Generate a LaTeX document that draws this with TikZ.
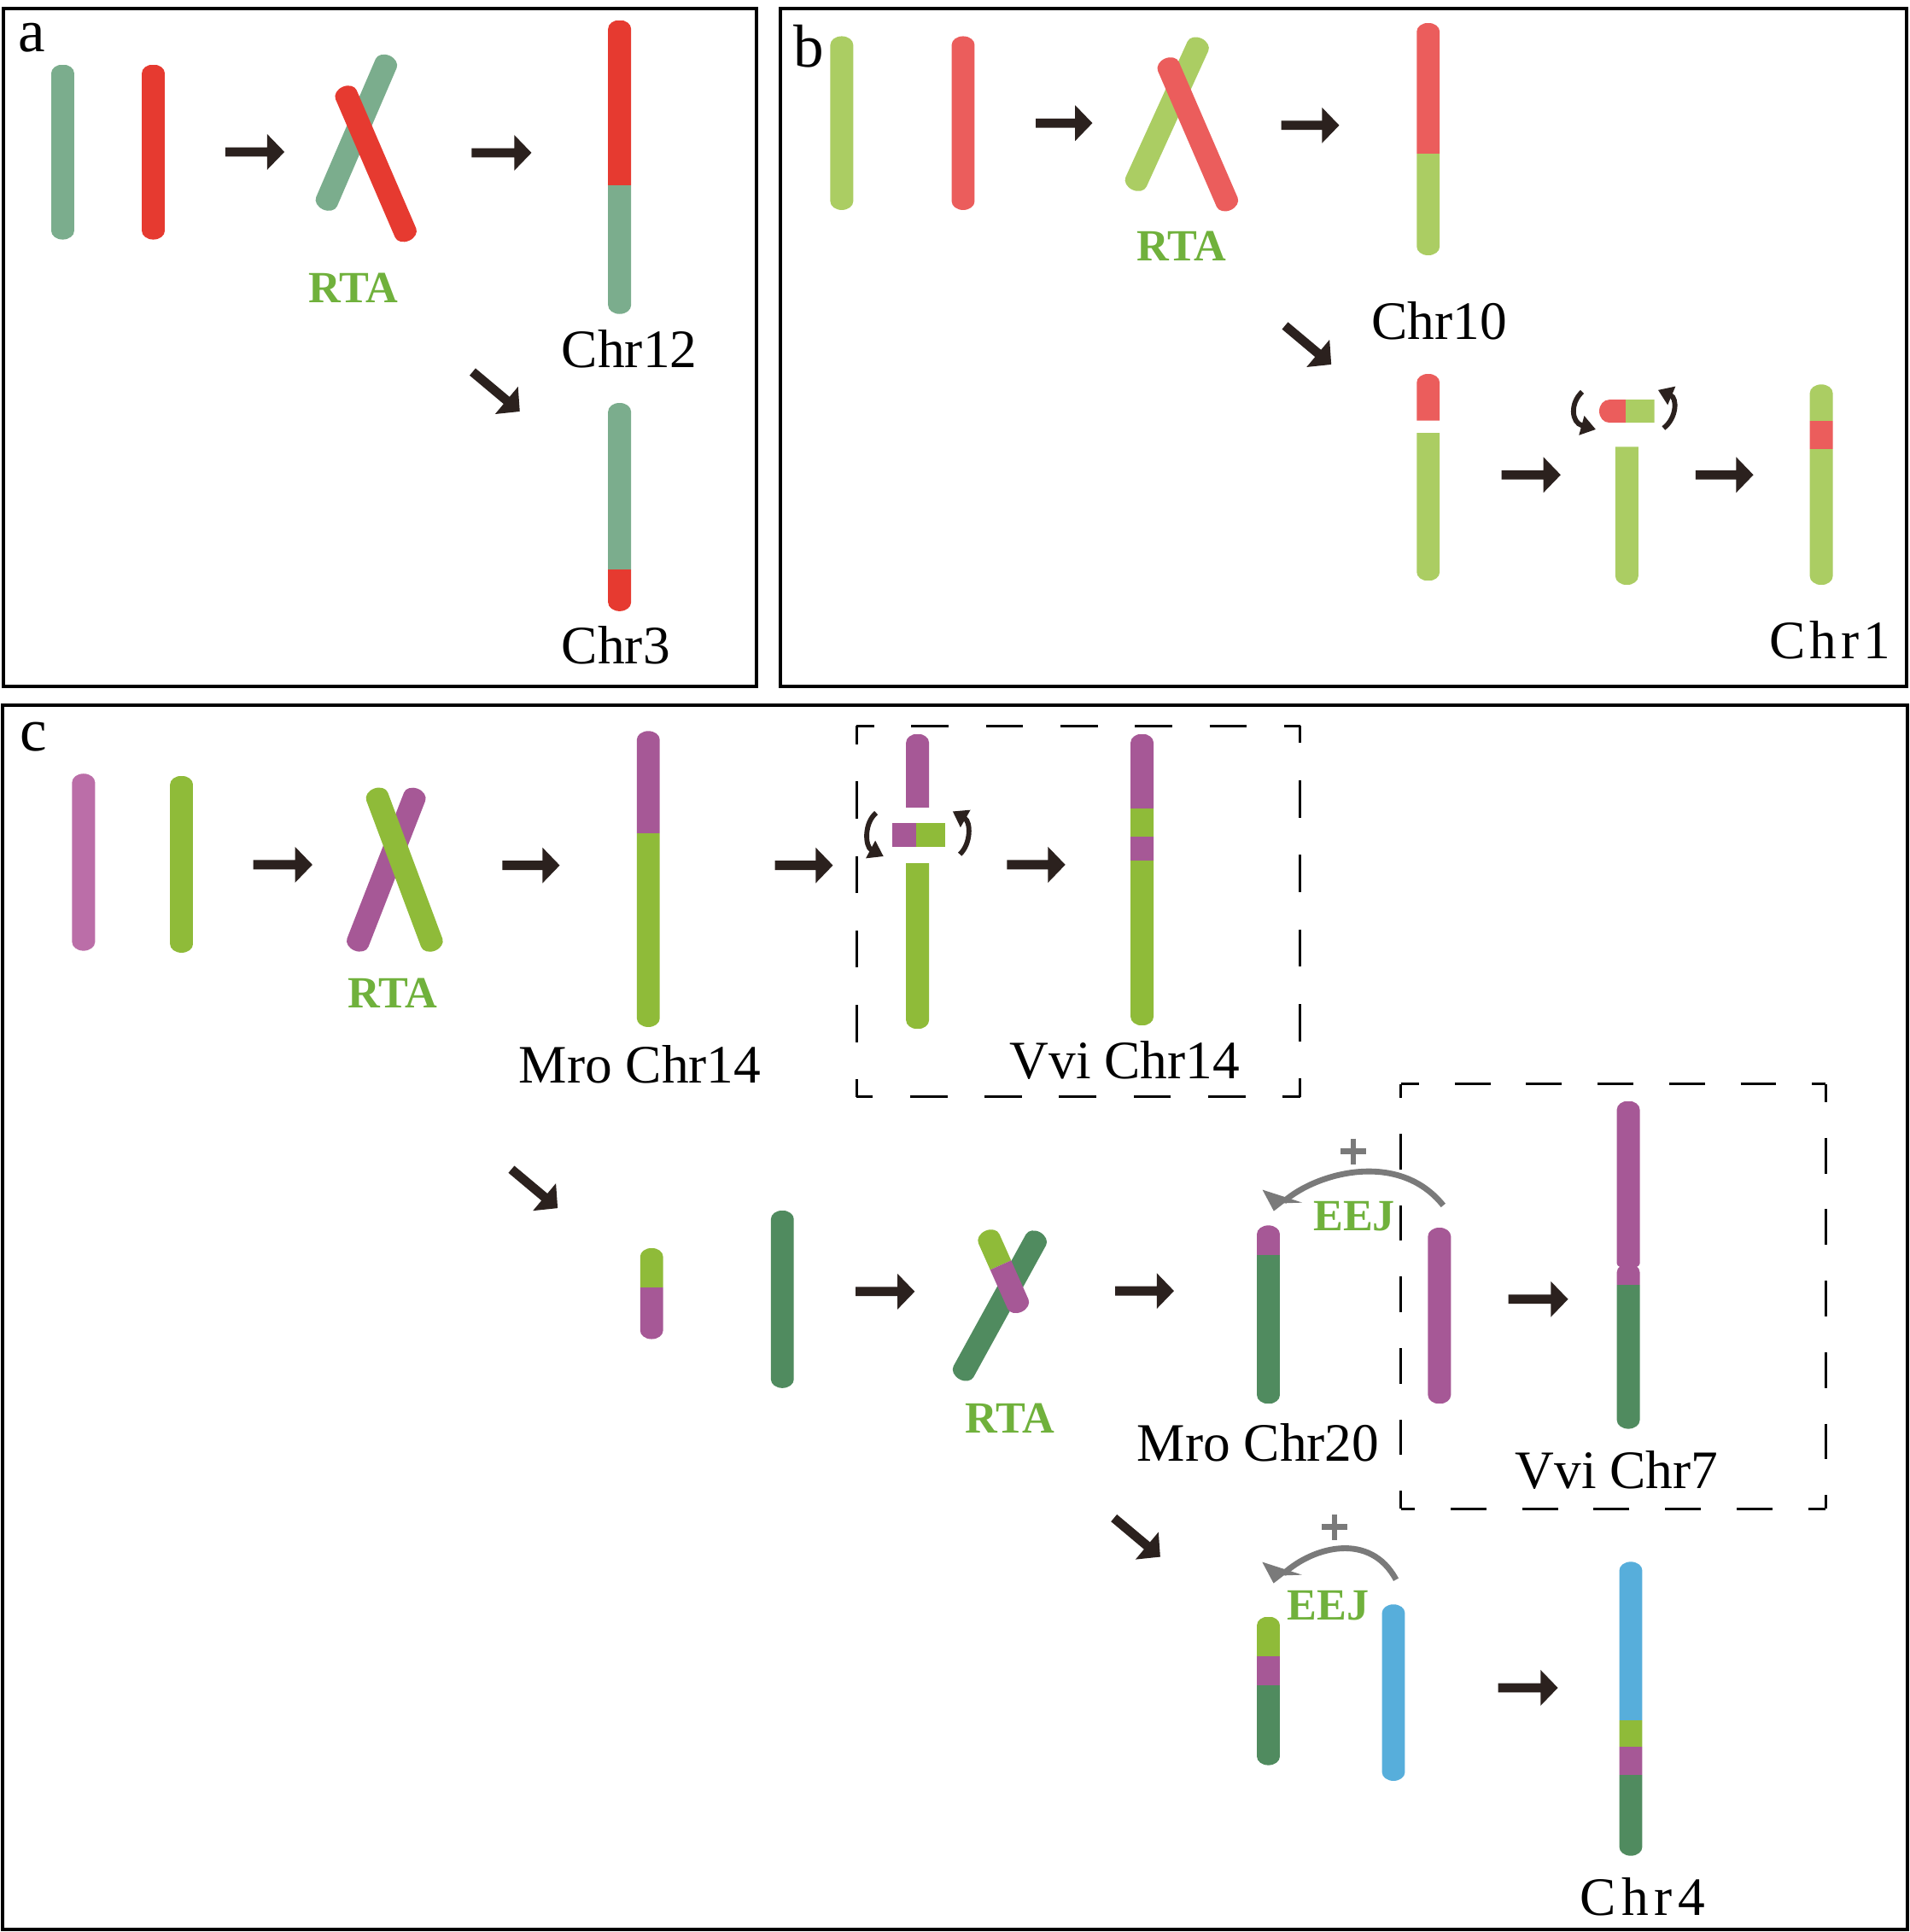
\documentclass[tikz,border=0pt]{standalone}
\usepackage{fontspec}
\setmainfont{Liberation Serif}
\usetikzlibrary{arrows.meta}
\definecolor{ateal}{RGB}{123,173,141}
\definecolor{ared}{RGB}{230,58,48}
\definecolor{blime}{RGB}{171,205,99}
\definecolor{bsalmon}{RGB}{235,93,92}
\definecolor{cpink}{RGB}{187,110,168}
\definecolor{cgreen}{RGB}{143,187,57}
\definecolor{cpurple}{RGB}{166,88,150}
\definecolor{cdark}{RGB}{80,139,95}
\definecolor{cblue}{RGB}{87,174,219}
\definecolor{tgreen}{RGB}{112,177,60}
\definecolor{arrc}{RGB}{43,33,30}
\definecolor{arcgray}{RGB}{122,122,122}
\newcommand\chw{9.3}
\newcommand\chromo[6]{%
\begin{scope}
\clip (#1+\chw,#2+#4) -- (#1+\chw,#3-#5) .. controls (#1+\chw,#3-0.4477*#5) and (#1+0.5523*\chw,#3) .. (#1,#3) .. controls (#1-0.5523*\chw,#3) and (#1-\chw,#3-0.4477*#5) .. (#1-\chw,#3-#5) -- (#1-\chw,#2+#4) .. controls (#1-\chw,#2+0.4477*#4) and (#1-0.5523*\chw,#2) .. (#1,#2) .. controls (#1+0.5523*\chw,#2) and (#1+\chw,#2+0.4477*#4) .. cycle;
\foreach \ya/\yb/\cc in {#6} {\fill[fill=\cc] (#1-\chw-1,\ya) rectangle (#1+\chw+1,\yb);}
\end{scope}}
\newcommand\barrow[4]{\fill[arrc,shift={(#1,#2)},rotate=#3] (0,-3.75) -- (#4-14,-3.75) -- (#4-14,-14.5) -- (#4,0) -- (#4-14,14.5) -- (#4-14,3.75) -- (0,3.75) -- cycle;}
\tikzset{
 chrlab/.style={anchor=base, inner sep=0pt, font=\fontsize{12.5}{15}\selectfont},
 rtalab/.style={anchor=base, inner sep=0pt, text=tgreen, font=\fontsize{10.3}{12}\selectfont\bfseries},
 plab/.style={anchor=base, inner sep=0pt, font=\fontsize{14}{16}\selectfont},
 frame/.style={draw=black, line width=0.8pt},
 dashA/.style={draw=black, line width=0.6pt, dash pattern=on 3.025mm off 3.025mm, dash phase=1.625mm},
 dashB/.style={draw=black, line width=0.6pt, dash pattern=on 2.9mm off 2.9mm, dash phase=1.45mm},
 rotarr/.style={draw=arrc, line width=1.15pt, -{Triangle[length=3.4pt,width=4.4pt]}},
 grayarc/.style={draw=arcgray, line width=1.35pt},
 plussign/.style={draw=arcgray, line width=1.25pt}
}
\begin{document}
\begin{tikzpicture}[x=0.1mm,y=-0.1mm]
\useasboundingbox (0,0) rectangle (1550,1568);
\fill[white] (0,0) rectangle (1550,1568);
% frames
\draw[frame] (3,7) rectangle (614,557);
\draw[frame] (633,7) rectangle (1547,557);
\draw[frame] (2,572) rectangle (1548,1566);
% panel labels
\node[plab] (la) at (25.9,41.6) {a};
\node[plab] (lb) at (656.6,54.7) {b};
\node[plab] (lc) at (27.4,609.4) {c};
% ---------------- panel a
\chromo{50.9}{52.4}{194.4}{7}{7}{52.4/194.4/ateal}
\chromo{124.4}{52.4}{194.4}{7}{7}{52.4/194.4/ared}
\barrow{182.8}{123.3}{0}{48}
\begin{scope}[shift={(289.2,107.6)},rotate=-23.3]
\chromo{0}{-68}{68}{7}{7}{-68/68/ateal}
\end{scope}
\begin{scope}[shift={(305,132.9)},rotate=23.3]
\chromo{0}{-68}{68}{7}{7}{-68/68/ared}
\end{scope}
\node[rtalab] (rta1) at (286.8,245.8) {RTA};
\barrow{382.7}{124}{0}{48.6}
\chromo{502.8}{16.3}{254.8}{7}{7}{16.3/150/ared,150/254.8/ateal}
\node[chrlab] (chr12) at (510.8,298) {Chr12};
\barrow{383.5}{301.8}{-40}{50}
\chromo{502.8}{327}{496}{7}{7}{327/462/ateal,462/496/ared}
\node[chrlab] (chr3) at (499.8,538.5) {Chr3};
% ---------------- panel b
\chromo{683.1}{29.4}{170.4}{7}{7}{29.4/170.4/blime}
\chromo{781.6}{29.4}{170.4}{7}{7}{29.4/170.4/bsalmon}
\barrow{840.5}{99.9}{0}{46}
\begin{scope}[shift={(947,92.6)},rotate=-24.5]
\chromo{0}{-67.5}{67.5}{7}{7}{-67.5/67.5/blime}
\end{scope}
\begin{scope}[shift={(972,109)},rotate=23.4]
\chromo{0}{-67}{67}{7}{7}{-67/67/bsalmon}
\end{scope}
\node[rtalab] (rta2) at (958.7,211.9) {RTA};
\barrow{1039.8}{101.7}{0}{47}
\chromo{1159}{18.6}{207.2}{7}{7}{18.6/124.5/bsalmon,124.5/207.2/blime}
\node[chrlab] (chr10) at (1168,275.2) {Chr10};
\barrow{1042.8}{264.3}{-40}{49}
\chromo{1159}{303.4}{341.3}{7}{0}{303.4/341.3/bsalmon}
\chromo{1159}{351}{471.4}{0}{7}{351/471.4/blime}
\barrow{1218.5}{385.4}{0}{48}
\chromo{1320.2}{362.7}{474.7}{0}{7}{362.7/474.7/blime}
\begin{scope}[shift={(1320.2,333.7)},rotate=90]
\chromo{0}{-22.4}{22.4}{8}{0}{-22.4/-1.2/bsalmon,-1.2/22.4/blime}
\end{scope}
\draw[rotarr] (1284,318) .. controls (1274,327) and (1275,343) .. (1295,348.5);
\draw[rotarr] (1350,347.5) .. controls (1361,339) and (1361,323) .. (1345.5,316.5);
\barrow{1375.9}{385.4}{0}{47}
\chromo{1478}{312}{474.7}{7}{7}{312/341.3/blime,341.3/364.4/bsalmon,364.4/474.7/blime}
\node[chrlab] (chr1) at (1485,534.6) {C\kern1pt h\kern1pt r\kern1pt 1};
% ---------------- panel c, row 1
\chromo{67.8}{627.9}{771.6}{7}{7}{627.9/771.6/cpink}
\chromo{147.3}{629.7}{773.2}{7}{7}{629.7/773.2/cgreen}
\barrow{205.5}{701.8}{0}{48}
\begin{scope}[shift={(313.4,705.8)},rotate=-21.3]
\chromo{0}{-70.5}{70.5}{7}{7}{-70.5/70.5/cpurple}
\end{scope}
\begin{scope}[shift={(328.2,705.8)},rotate=20.5]
\chromo{0}{-70.3}{70.3}{7}{7}{-70.3/70.3/cgreen}
\end{scope}
\node[rtalab] (rta3) at (318.5,817.8) {RTA};
\barrow{407.6}{702.3}{0}{46.6}
\chromo{526.1}{593.3}{833.5}{7}{7}{593.3/676.4/cpurple,676.4/833.5/cgreen}
\node[chrlab] (mro14) at (519.3,879) {Mro Chr14};
\barrow{628.9}{702.3}{0}{47}
% dashed box 1
\draw[dashA] (695.3,589.1) -- (1055,589.1);
\draw[dashA] (1055,589.1) -- (1055,890.1);
\draw[dashA] (1055,890.1) -- (695.3,890.1);
\draw[dashA] (695.3,890.1) -- (695.3,589.1);
\chromo{744.6}{595.6}{655.6}{7}{0}{595.6/655.6/cpurple}
\chromo{744.6}{700.4}{835.1}{0}{7}{700.4/835.1/cgreen}
\fill[cpurple] (724,667.6) rectangle (743.3,687.3);
\fill[cgreen] (743.3,667.6) rectangle (767,687.3);
\draw[rotarr] (711,659.7) .. controls (701,668) and (702,687) .. (717,695);
\draw[rotarr] (778.9,693.3) .. controls (788,685) and (788,667) .. (773.1,658.5);
\barrow{817.2}{701.8}{0}{47.3}
\chromo{926.8}{595.6}{832.3}{7}{7}{595.6/656.1/cpurple,656.1/679.2/cgreen,679.2/698.4/cpurple,698.4/832.3/cgreen}
\node[chrlab] (vvi14) at (912.8,875.5) {Vvi Chr14};
% ---------------- panel c, row 2
\barrow{415}{949}{-40}{49}
\chromo{528.8}{1012.9}{1086.8}{7}{7}{1012.9/1045.2/cgreen,1045.2/1086.8/cpurple}
\chromo{634.9}{982.4}{1126.5}{7}{7}{982.4/1126.5/cdark}
\barrow{694.3}{1048.2}{0}{48}
\begin{scope}[shift={(811.3,1059.7)},rotate=-28.8]
\chromo{0}{-68}{68}{7}{7}{-68/68/cdark}
\end{scope}
\begin{scope}[shift={(814.3,1031.8)},rotate=24]
\chromo{0}{-36}{36}{7}{7}{-36/-5.5/cgreen,-5.5/36/cpurple}
\end{scope}
\node[rtalab] (rta4) at (819.6,1163) {RTA};
\barrow{905}{1047.7}{0}{47.7}
\chromo{1029.3}{994.5}{1139.3}{7}{7}{994.5/1018.5/cpurple,1018.5/1139.3/cdark}
\node[chrlab] (mro20) at (1021,1185.6) {Mro Chr20};
\chromo{1168.1}{996.3}{1139.3}{7}{7}{996.3/1139.3/cpurple}
\draw[grayarc] (1171.2,978.3) .. controls (1135,933) and (1068,952) .. (1042,975);
\fill[arcgray] (1024.5,965.6) -- (1033.7,982.9) -- (1042,976.5) -- (1056.8,976) -- cycle;
\draw[plussign] (1088,934.4) -- (1108.8,934.4) (1098.4,924) -- (1098.4,944.8);
\node[rtalab] (eej1) at (1099,999) {EEJ};
% dashed box 2
\draw[dashB] (1137,879.9) -- (1481.7,879.9);
\draw[dashB] (1481.7,879.9) -- (1481.7,1224.5);
\draw[dashB] (1481.7,1224.5) -- (1137,1224.5);
\draw[dashB] (1137,1224.5) -- (1137,879.9);
\barrow{1224}{1054.4}{0}{48.5}
\chromo{1321.4}{893.5}{1029.5}{7}{4}{893.5/1029.5/cpurple}
\chromo{1321.4}{1025.5}{1159.6}{7}{7}{1025.5/1042.5/cpurple,1042.5/1159.6/cdark}
\node[chrlab] (vvi7) at (1312,1207.9) {Vvi Chr7};
% ---------------- panel c, row 3
\barrow{904}{1232}{-40}{49}
\draw[grayarc] (1132.9,1282) .. controls (1112,1243) and (1066,1255) .. (1041.8,1277);
\fill[arcgray] (1024.3,1267.7) -- (1033.5,1285) -- (1041.8,1278.6) -- (1056.6,1278.1) -- cycle;
\draw[plussign] (1072.8,1239.3) -- (1093.6,1239.3) (1083.2,1228.9) -- (1083.2,1249.7);
\node[rtalab] (eej2) at (1078,1314.4) {EEJ};
\chromo{1029.3}{1312}{1432.6}{7}{7}{1312/1343.9/cgreen,1343.9/1367.5/cpurple,1367.5/1432.6/cdark}
\chromo{1130.8}{1302.1}{1445.3}{7}{7}{1302.1/1445.3/cblue}
\barrow{1215.7}{1369.8}{0}{48.5}
\chromo{1323.4}{1267.5}{1506.1}{7}{7}{1267.5/1395.9/cblue,1395.9/1417.6/cgreen,1417.6/1440.7/cpurple,1440.7/1506.1/cdark}
\node[chrlab] (chr4) at (1332.7,1554.6) {C\kern1.3pt h\kern1.3pt r\kern1.3pt 4};
\end{tikzpicture}
\end{document}
